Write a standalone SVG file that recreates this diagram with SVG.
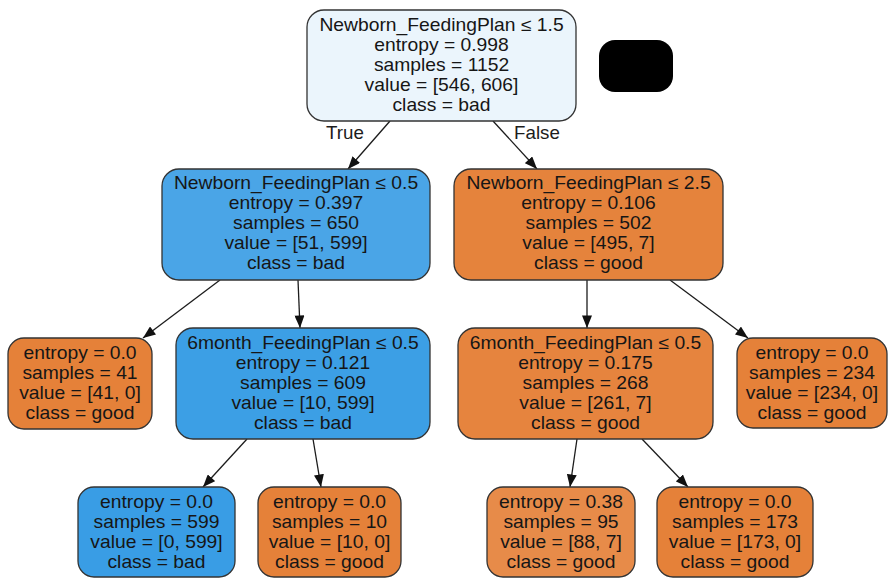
<svg xmlns="http://www.w3.org/2000/svg" width="888" height="578" viewBox="0 0 888 578">
  <defs>
    <marker id="arrow" viewBox="0 0 10 8" refX="10" refY="4" markerWidth="13" markerHeight="10" markerUnits="userSpaceOnUse" orient="auto">
      <path d="M0,0 L10,4 L0,8 z" fill="#111"/>
    </marker>
    <style>
      .box { stroke: #333; stroke-width: 1.3; }
      .lbl text { font-family: "Liberation Sans", Arial, sans-serif; font-size: 17.7px; fill: #161616; text-anchor: middle; }
      .edge { stroke: #1c1c1c; stroke-width: 1.3; fill: none; marker-end: url(#arrow); }
      .elbl { font-family: "Liberation Sans", Arial, sans-serif; font-size: 17.7px; fill: #1c1c1c; text-anchor: middle; }
      .b-root { fill: #ebf5fc; }
      .b-blue1 { fill: #4aa5e7; }
      .b-blue2 { fill: #3c9fe5; }
      .b-blue { fill: #399de5; }
      .b-or1 { fill: #e5833c; }
      .b-or2 { fill: #e6843e; }
      .b-or3 { fill: #e78b49; }
      .b-or { fill: #e58139; }
    </style>
  </defs>

  <rect width="888" height="578" fill="#ffffff"/>

  <!-- connectors -->
  <g id="edges">
    <line class="edge" x1="390" y1="121" x2="348" y2="169"/>
    <line class="edge" x1="493" y1="121" x2="537" y2="169"/>
    <line class="edge" x1="220" y1="280" x2="143" y2="338"/>
    <line class="edge" x1="298" y1="280" x2="300" y2="328"/>
    <line class="edge" x1="587" y1="280" x2="587" y2="328"/>
    <line class="edge" x1="670" y1="280" x2="748" y2="338"/>
    <line class="edge" x1="247" y1="439" x2="203" y2="487"/>
    <line class="edge" x1="313" y1="439" x2="321" y2="487"/>
    <line class="edge" x1="577" y1="439" x2="570" y2="487"/>
    <line class="edge" x1="642" y1="439" x2="688" y2="487"/>
    <g transform="translate(345 139) scale(1.06 1)"><text class="elbl" x="0" y="0">True</text></g>
    <g transform="translate(537 139) scale(1.06 1)"><text class="elbl" x="0" y="0">False</text></g>
  </g>

  <!-- root split -->
  <g id="n0" transform="translate(441.5 10)">
    <rect class="box b-root" x="-134.5" y="0" width="269" height="111" rx="17"/>
    <g class="lbl" transform="scale(1.09 1)">
      <text x="0" y="21.3">Newborn_FeedingPlan ≤ 1.5</text>
      <text x="0" y="41.3">entropy = 0.998</text>
      <text x="0" y="61.3">samples = 1152</text>
      <text x="0" y="81.3">value = [546, 606]</text>
      <text x="0" y="101.3">class = bad</text>
    </g>
  </g>

  <!-- solid badge beside the root -->
  <g id="badge">
    <rect x="599" y="40" width="74" height="52" rx="16" fill="#000"/>
  </g>

  <g id="n1" transform="translate(296 169)">
    <rect class="box b-blue1" x="-134" y="0" width="268" height="111" rx="17"/>
    <g class="lbl" transform="scale(1.09 1)">
      <text x="0" y="20.3">Newborn_FeedingPlan ≤ 0.5</text>
      <text x="0" y="40.3">entropy = 0.397</text>
      <text x="0" y="60.3">samples = 650</text>
      <text x="0" y="80.3">value = [51, 599]</text>
      <text x="0" y="100.3">class = bad</text>
    </g>
  </g>

  <g id="n2" transform="translate(588.5 169)">
    <rect class="box b-or1" x="-134.5" y="0" width="269" height="111" rx="17"/>
    <g class="lbl" transform="scale(1.09 1)">
      <text x="0" y="20.3">Newborn_FeedingPlan ≤ 2.5</text>
      <text x="0" y="40.3">entropy = 0.106</text>
      <text x="0" y="60.3">samples = 502</text>
      <text x="0" y="80.3">value = [495, 7]</text>
      <text x="0" y="100.3">class = good</text>
    </g>
  </g>

  <g id="n3" transform="translate(80 338)">
    <rect class="box b-or" x="-72" y="0" width="144" height="91" rx="16"/>
    <g class="lbl" transform="scale(1.09 1)">
      <text x="0" y="21.3">entropy = 0.0</text>
      <text x="0" y="41.3">samples = 41</text>
      <text x="0" y="61.3">value = [41, 0]</text>
      <text x="0" y="81.3">class = good</text>
    </g>
  </g>

  <g id="n4" transform="translate(303 328)">
    <rect class="box b-blue2" x="-127" y="0" width="254" height="111" rx="17"/>
    <g class="lbl" transform="scale(1.09 1)">
      <text x="0" y="21.3">6month_FeedingPlan ≤ 0.5</text>
      <text x="0" y="41.3">entropy = 0.121</text>
      <text x="0" y="61.3">samples = 609</text>
      <text x="0" y="81.3">value = [10, 599]</text>
      <text x="0" y="101.3">class = bad</text>
    </g>
  </g>

  <g id="n5" transform="translate(585.5 328)">
    <rect class="box b-or2" x="-127.5" y="0" width="255" height="111" rx="17"/>
    <g class="lbl" transform="scale(1.09 1)">
      <text x="0" y="21.3">6month_FeedingPlan ≤ 0.5</text>
      <text x="0" y="41.3">entropy = 0.175</text>
      <text x="0" y="61.3">samples = 268</text>
      <text x="0" y="81.3">value = [261, 7]</text>
      <text x="0" y="101.3">class = good</text>
    </g>
  </g>

  <g id="n6" transform="translate(812 338)">
    <rect class="box b-or" x="-75" y="0" width="150" height="90" rx="16"/>
    <g class="lbl" transform="scale(1.09 1)">
      <text x="0" y="21.3">entropy = 0.0</text>
      <text x="0" y="41.3">samples = 234</text>
      <text x="0" y="61.3">value = [234, 0]</text>
      <text x="0" y="81.3">class = good</text>
    </g>
  </g>

  <g id="n7" transform="translate(156.5 487)">
    <rect class="box b-blue" x="-78.5" y="0" width="157" height="90" rx="16"/>
    <g class="lbl" transform="scale(1.09 1)">
      <text x="0" y="21.3">entropy = 0.0</text>
      <text x="0" y="41.3">samples = 599</text>
      <text x="0" y="61.3">value = [0, 599]</text>
      <text x="0" y="81.3">class = bad</text>
    </g>
  </g>

  <g id="n8" transform="translate(329.5 487)">
    <rect class="box b-or" x="-71.5" y="0" width="143" height="90" rx="16"/>
    <g class="lbl" transform="scale(1.09 1)">
      <text x="0" y="21.3">entropy = 0.0</text>
      <text x="0" y="41.3">samples = 10</text>
      <text x="0" y="61.3">value = [10, 0]</text>
      <text x="0" y="81.3">class = good</text>
    </g>
  </g>

  <g id="n9" transform="translate(561 487)">
    <rect class="box b-or3" x="-74" y="0" width="148" height="90" rx="16"/>
    <g class="lbl" transform="scale(1.09 1)">
      <text x="0" y="21.3">entropy = 0.38</text>
      <text x="0" y="41.3">samples = 95</text>
      <text x="0" y="61.3">value = [88, 7]</text>
      <text x="0" y="81.3">class = good</text>
    </g>
  </g>

  <g id="n10" transform="translate(735 487)">
    <rect class="box b-or" x="-78" y="0" width="156" height="90" rx="16"/>
    <g class="lbl" transform="scale(1.09 1)">
      <text x="0" y="21.3">entropy = 0.0</text>
      <text x="0" y="41.3">samples = 173</text>
      <text x="0" y="61.3">value = [173, 0]</text>
      <text x="0" y="81.3">class = good</text>
    </g>
  </g>
</svg>
